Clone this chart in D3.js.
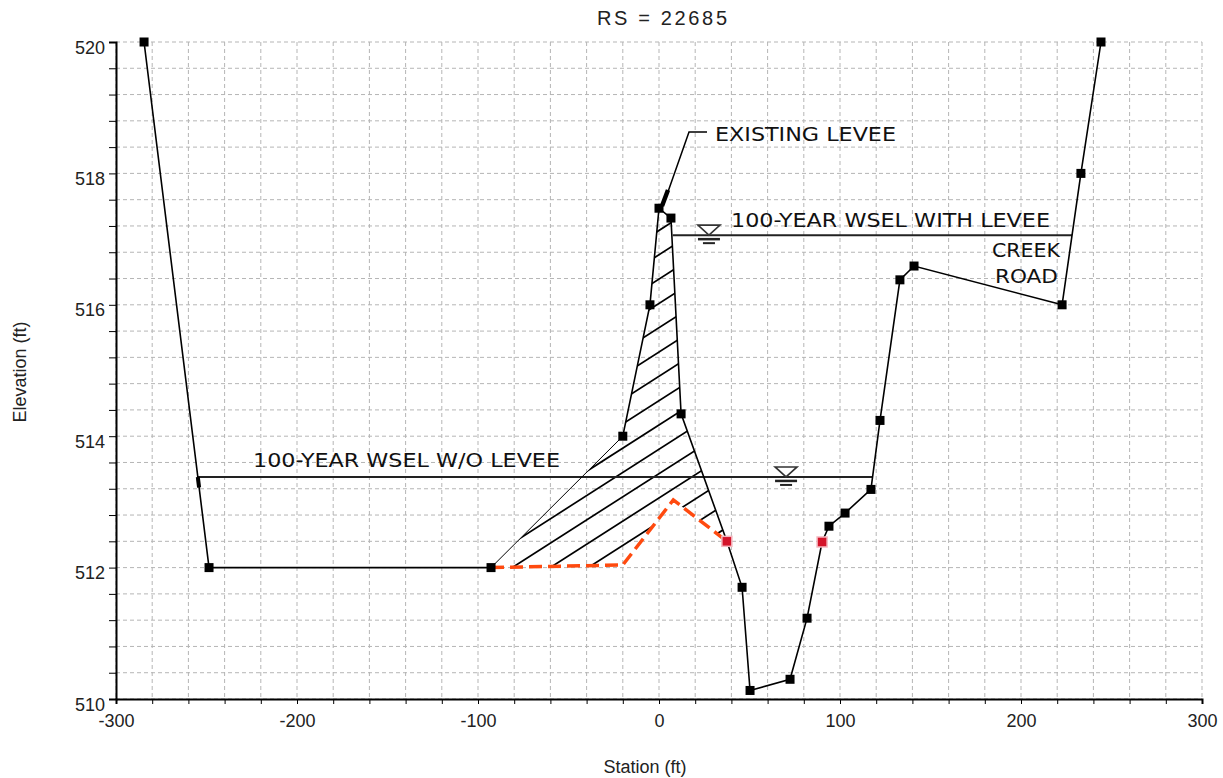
<!DOCTYPE html>
<html>
<head>
<meta charset="utf-8">
<script src="https://cdn.jsdelivr.net/npm/d3@7"></script>
<style>
  body { margin: 0; background: #fff; }
  text { font-family: "Liberation Sans", Arial, sans-serif; fill: #222; }
  .note { font-family: "DejaVu Sans", sans-serif; fill: #111; }
</style>
</head>
<body>
<svg id="svg1" width="1223" height="778"></svg>
<script>
"use strict";

// cross section RS = 22685 (ft)
const station   = [-284.5, -248.6, -92.8, -20, -5, 0, 6.6, 12.2, 37.5, 45.9, 50.3, 72.4, 81.8, 90.1, 93.9, 102.8, 117.1, 122.1, 133.1, 140.9, 222.7, 233.1, 244.2];
const elevation = [520, 512, 512, 514, 516, 517.47, 517.32, 514.34, 512.4, 511.7, 510.13, 510.3, 511.23, 512.39, 512.63, 512.83, 513.19, 514.24, 516.38, 516.59, 516, 518, 520];

// bank stations (red markers)
const bankStation   = [37.5, 90.1];
const bankElevation = [512.4, 512.39];

// existing ground under the levee (orange dashed)
const existStation   = [-92.8, -20, 7.9, 37.5];
const existElevation = [512, 512.04, 513.03, 512.4];

// levee outline used for the hatch (top of levee, then back along existing ground)
const leveeStation   = [-92.8, -20, -5, 0, 6.6, 12.2, 37.5, 7.9, -20];
const leveeElevation = [512, 514, 516, 517.47, 517.32, 514.34, 512.4, 513.03, 512.04];

// water surfaces
const wselNames  = ["100-YEAR WSEL WITH LEVEE", "100-YEAR WSEL W/O LEVEE"];
const wselLevel  = [517.06, 513.38];
const wselStart  = [7.6, -254.8];
const wselEnd    = [228.2, 118.0];
const wselSymbol = [27.6, 70.2];

const xTicks = [-300, -200, -100, 0, 100, 200, 300];
const yTicks = [510, 512, 514, 516, 518, 520];

const svg    = d3.select("#svg1"),
      margin = {top: 42, right: 21, bottom: 79, left: 116},
      width  = +svg.attr("width")  - margin.left - margin.right,
      height = +svg.attr("height") - margin.top  - margin.bottom,
      x      = d3.scaleLinear().domain([-300, 300]).range([0, width]),
      y      = d3.scaleLinear().domain([510, 520]).range([height, 0]),
      g      = svg.append("g").attr("transform", `translate(${margin.left},${margin.top})`);

//grid, dashed every 20 ft / 0.4 ft
g.append("g").selectAll("line").data(d3.range(-300, 301, 20)).enter().append("line")
  .attr("x1", d => x(d)).attr("x2", d => x(d)).attr("y1", 0).attr("y2", height)
  .attr("stroke", "#b5b5b5").attr("stroke-dasharray", "4,3");
g.append("g").selectAll("line").data(d3.range(0, 26).map(i => 510 + i * 0.4)).enter().append("line")
  .attr("y1", d => y(d)).attr("y2", d => y(d)).attr("x1", 0).attr("x2", width)
  .attr("stroke", "#b5b5b5").attr("stroke-dasharray", "4,3");

//axes
g.append("g")
  .attr("transform", `translate(0,${height})`)
  .call(d3.axisBottom(x).tickValues(d3.range(-300, 301, 20)).tickSize(5).tickFormat(d => xTicks.includes(d) ? d : ""))
  .call(a => a.select(".domain").attr("stroke", "#000").attr("stroke-width", 2))
  .call(a => a.selectAll("text").attr("dy", "1.1em").style("font-size", "18px").style("font-family", "Liberation Sans, Arial").attr("fill", "#333"));
g.append("g")
  .call(d3.axisLeft(y).tickValues(d3.range(0, 26).map(i => +(510 + i * 0.4).toFixed(1))).tickSize(7)
        .tickFormat(d => yTicks.includes(d) ? d : ""))
  .call(a => a.select(".domain").attr("stroke", "#000").attr("stroke-width", 2))
  .call(a => a.selectAll("text").attr("dy", "0.62em").attr("x", -11).style("font-size", "18px").style("font-family", "Liberation Sans, Arial").attr("fill", "#333"));

const line = d3.line().x(d => x(d[0])).y(d => y(d[1]));

//levee hatch, clipped to the levee outline
const leveePts = leveeStation.map((s, i) => [s, leveeElevation[i]]);
svg.append("defs").append("clipPath").attr("id", "leveeClip")
  .append("path").attr("d", line(leveePts) + "Z");
const hatch = g.append("g").attr("clip-path", "url(#leveeClip)");
const base = y(512);
d3.range(-14, 8).forEach(k => {
  const x0 = x(-92.8) + 18 + k * 38;
  hatch.append("line")
    .attr("x1", x0).attr("y1", base + 2)
    .attr("x2", x0 + 700).attr("y2", base + 2 - 700 * 0.64)
    .attr("stroke", "#000").attr("stroke-width", 1.7);
});

//water surface lines
wselLevel.forEach((w, i) => {
  g.append("line")
    .attr("x1", x(wselStart[i])).attr("x2", x(wselEnd[i]))
    .attr("y1", y(w)).attr("y2", y(w))
    .attr("stroke", "#222").attr("stroke-width", 2);
  const cx = x(wselSymbol[i]), cy = y(w);
  g.append("path")
    .attr("d", `M${cx - 11},${cy - 10}L${cx + 11},${cy - 10}L${cx},${cy}Z`)
    .attr("fill", "#fff").attr("stroke", "#333").attr("stroke-width", 1.6);
  g.append("line").attr("x1", cx - 11).attr("x2", cx + 11).attr("y1", cy + 4).attr("y2", cy + 4)
    .attr("stroke", "#222").attr("stroke-width", 2.5);
  g.append("line").attr("x1", cx - 6).attr("x2", cx + 6).attr("y1", cy + 8).attr("y2", cy + 8)
    .attr("stroke", "#222").attr("stroke-width", 2);
});

//existing ground (orange dashed)
g.append("path")
  .datum(existStation.map((s, i) => [s, existElevation[i]]))
  .attr("d", line).attr("fill", "none")
  .attr("stroke", "#ff4a0f").attr("stroke-width", 3.5).attr("stroke-dasharray", "13,6");

//ground line
const ground = station.map((s, i) => [s, elevation[i]]);
g.append("path").datum(ground.slice(2, 4)).attr("d", line)
  .attr("fill", "none").attr("stroke", "#000").attr("stroke-width", 1);
g.append("path").datum(ground.slice(0, 3)).attr("d", line)
  .attr("fill", "none").attr("stroke", "#000").attr("stroke-width", 1.6);
g.append("path").datum(ground.slice(3)).attr("d", line)
  .attr("fill", "none").attr("stroke", "#000").attr("stroke-width", 1.6);

// bold bit where the w/o levee surface meets the left bank
g.append("path").datum([[wselStart[1], wselLevel[1]], [wselStart[1] + 0.7, wselLevel[1] - 0.16]])
  .attr("d", line).attr("stroke", "#000").attr("stroke-width", 4);

g.selectAll(".pt").data(ground.filter(d => !bankStation.includes(d[0]))).enter().append("rect")
  .attr("class", "pt")
  .attr("x", d => x(d[0]) - 4.5).attr("y", d => y(d[1]) - 4.5)
  .attr("width", 9).attr("height", 9).attr("fill", "#000");
g.selectAll(".bank").data(bankStation).enter().append("rect")
  .attr("class", "bank")
  .attr("x", (d, i) => x(d) - 5).attr("y", (d, i) => y(bankElevation[i]) - 5)
  .attr("width", 10).attr("height", 10).attr("fill", "#d4142a")
  .attr("stroke", "#f4b8c0").attr("stroke-width", 1.5);

//labels
const note = (t, px, py, len, anchor) => svg.append("text").attr("class", "note")
  .attr("x", px).attr("y", py).attr("textLength", len).attr("lengthAdjust", "spacingAndGlyphs")
  .attr("text-anchor", anchor || "start").style("font-size", "20px").text(t);

note(wselNames[0], 731, 227, 319);
note(wselNames[1], 253, 467, 307);
note("CREEK", 992, 257, 68);
note("ROAD", 995, 283, 63);
note("EXISTING LEVEE", 715, 141, 181);

//leader for EXISTING LEVEE
svg.append("path").attr("d", "M707,132L689,132L663,206")
  .attr("fill", "none").attr("stroke", "#000").attr("stroke-width", 1.5);
svg.append("path").attr("d", "M668,190L662,206")
  .attr("fill", "none").attr("stroke", "#000").attr("stroke-width", 4.5);

//title and axis titles
svg.append("text").attr("x", 662).attr("y", 25).attr("text-anchor", "middle")
  .attr("textLength", 130).style("font-size", "20px").text("RS = 22685");
svg.append("text").attr("x", 645).attr("y", 773).attr("text-anchor", "middle")
  .style("font-size", "18px").attr("fill", "#333").text("Station (ft)");
svg.append("text").attr("transform", "rotate(-90)")
  .attr("x", -372).attr("y", 26).attr("text-anchor", "middle")
  .style("font-size", "18px").attr("fill", "#333").text("Elevation (ft)");
</script>
</body>
</html>
